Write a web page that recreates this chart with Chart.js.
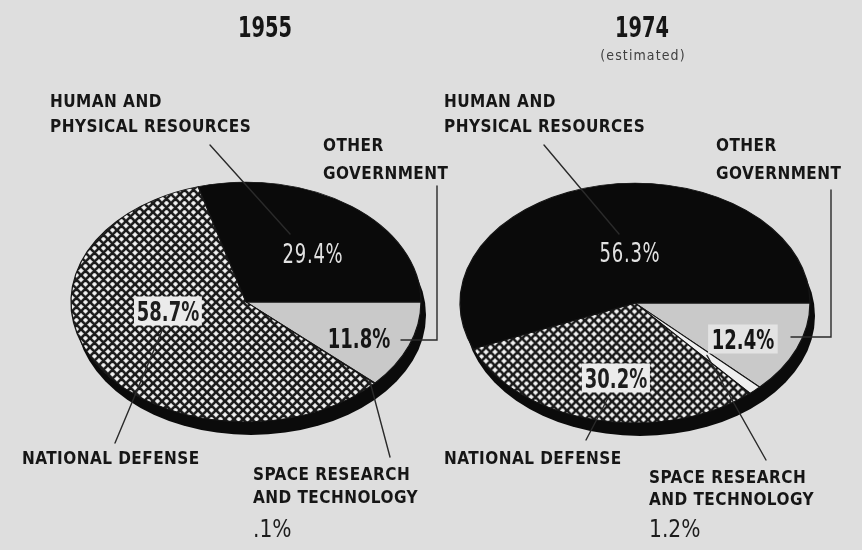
<!DOCTYPE html>
<html>
<head>
<meta charset="utf-8">
<script src="https://cdn.jsdelivr.net/npm/chart.js@4/dist/chart.umd.min.js"></script>
<style>
html,body{margin:0;padding:0;background:#dedede;}
#wrap{position:relative;width:862px;height:550px;overflow:hidden;background:#dedede;
  font-family:"DejaVu Sans Condensed","DejaVu Sans",sans-serif;color:#161616;}
canvas{position:absolute;left:0;top:0;}
.t{position:absolute;white-space:nowrap;}
.title{font-weight:bold;font-size:28px;line-height:28px;transform:translate(-50%,-50%) scaleX(0.77);}
.sub{font-size:14px;line-height:14px;letter-spacing:1.1px;color:#404040;transform:translate(-50%,-50%);}
.lab{font-weight:bold;font-size:17px;letter-spacing:0.45px;}
.pct{font-size:27px;line-height:27px;transform:translate(-50%,-50%) scaleX(0.74);}
.pb{font-weight:bold;color:#151515;}
.pbx{font-weight:bold;color:#151515;background:#e3e3e3;padding:1px 5px;}
.pbox{color:#1d1d1d;background:#ebebeb;padding:1px 4px;font-weight:bold;}
.pw{color:#e2e2e2;letter-spacing:1px;}
.ps{font-size:25px;line-height:25px;color:#1d1d1d;transform-origin:0 50%;transform:translate(0,-50%) scaleX(0.9);}
</style>
</head>
<body>
<div id="wrap">
  <canvas id="c1955" width="862" height="550"></canvas>
  <canvas id="c1974" width="862" height="550"></canvas>
</div>
<script>
// ---------------- data ----------------
const categories = ["OTHER GOVERNMENT", "SPACE RESEARCH AND TECHNOLOGY", "NATIONAL DEFENSE", "HUMAN AND PHYSICAL RESOURCES"];
const labelLines = [["OTHER", "GOVERNMENT"], ["SPACE RESEARCH", "AND TECHNOLOGY"], ["NATIONAL DEFENSE"], ["HUMAN AND", "PHYSICAL RESOURCES"]];
const years = ["1955", "1974"];
const subtitles = ["", "(estimated)"];
const values1955 = [11.8, 0.1, 58.7, 29.4];
const values1974 = [12.4, 1.2, 30.2, 56.3];

// ---------------- layout / style ----------------
const W = 862, H = 550;
const RADIUS = 175, SQUASH = 0.685, RIM_DX = 5, RIM_DY = 13;
const layouts = [
  { id: "c1955", values: values1955, cx: 246, cy: 302, titleX: 265,
    labels: [{x: 323, y: 138, lh: 28}, {x: 253, y: 468, lh: 23}, {x: 22, y: 452, lh: 25}, {x: 50, y: 95, lh: 25}],
    pcts: [{x: 359, y: 338, cls: "pb"}, {x: 253, y: 528, cls: "ps"}, {x: 168, y: 311, cls: "pbox"}, {x: 313, y: 253, cls: "pw"}],
    leaders: [[[437, 186], [437, 340], [401, 340]], [[390, 457], {slice: 1, t: 0.5, r: 0.96}], [[115, 443], [164, 326]], [[210, 145], [290, 234]]]
  },
  { id: "c1974", values: values1974, cx: 635, cy: 303, titleX: 642,
    labels: [{x: 716, y: 138, lh: 28}, {x: 649, y: 470, lh: 22}, {x: 444, y: 452, lh: 25}, {x: 444, y: 95, lh: 25}],
    pcts: [{x: 743, y: 339, cls: "pbx"}, {x: 649, y: 528, cls: "ps"}, {x: 616, y: 378, cls: "pbox"}, {x: 630, y: 252, cls: "pw"}],
    leaders: [[[831, 190], [831, 337], [791, 337]], [[766, 460], {slice: 1, t: 0.5, r: 0.6}], [[586, 440], [608, 398]], [[544, 145], [619, 234]]]
  }
];

function fmtPct(v) {
  let s = String(v);
  if (v < 1) s = s.replace(/^0/, "");
  return s + "%";
}

function hatchPattern(ctx) {
  const s = 9;
  const c = document.createElement("canvas");
  c.width = s; c.height = s;
  const g = c.getContext("2d");
  g.fillStyle = "#f2f2f2";
  g.fillRect(0, 0, s, s);
  g.strokeStyle = "#1b1b1b";
  g.lineWidth = 2.6;
  g.beginPath();
  for (let k = -1; k <= 1; k++) {
    g.moveTo(k * s - 2, -2); g.lineTo(k * s + s + 2, s + 2);
  }
  for (let k = 0; k <= 2; k++) {
    g.moveTo(k * s + 2, -2); g.lineTo(k * s - s - 2, s + 2);
  }
  g.stroke();
  const p = ctx.createPattern(c, "repeat");
  if (p.setTransform) p.setTransform(new DOMMatrix().scale(1, 1 / SQUASH));
  return p;
}

function makePlugins(layout) {
  const ellipse = {
    id: "ellipse",
    beforeDatasetsDraw(chart) {
      const a = chart.getDatasetMeta(0).data[0];
      const ctx = chart.ctx;
      ctx.save();
      ctx.fillStyle = "#0b0b0b";
      ctx.beginPath();
      ctx.ellipse(a.x + RIM_DX, a.y + RIM_DY, a.outerRadius, a.outerRadius * SQUASH, 0, 0, Math.PI * 2);
      ctx.fill();
      ctx.restore();
      ctx.save();
      ctx.translate(a.x, a.y);
      ctx.scale(1, SQUASH);
      ctx.translate(-a.x, -a.y);
    },
    afterDatasetsDraw(chart) {
      chart.ctx.restore();
    }
  };
  const leaders = {
    id: "leaders",
    afterDraw(chart) {
      const ctx = chart.ctx;
      const arcs = chart.getDatasetMeta(0).data;
      ctx.save();
      ctx.strokeStyle = "#2a2a2a";
      ctx.lineWidth = 1.4;
      ctx.lineCap = "round";
      layout.leaders.forEach(path => {
        ctx.beginPath();
        path.forEach((p, i) => {
          let pt = p;
          if (!Array.isArray(p)) {
            const a = arcs[p.slice];
            const ang = a.startAngle + (a.endAngle - a.startAngle) * p.t;
            pt = [a.x + Math.cos(ang) * a.outerRadius * p.r, a.y + Math.sin(ang) * a.outerRadius * p.r * SQUASH];
          }
          if (i === 0) ctx.moveTo(pt[0], pt[1]); else ctx.lineTo(pt[0], pt[1]);
        });
        ctx.stroke();
      });
      ctx.restore();
    }
  };
  return [ellipse, leaders];
}

const wrap = document.getElementById("wrap");
function addText(html, cls, x, y, extra) {
  const d = document.createElement("div");
  d.className = "t " + cls;
  d.innerHTML = html;
  d.style.left = x + "px";
  d.style.top = y + "px";
  if (extra) Object.assign(d.style, extra);
  wrap.appendChild(d);
  return d;
}

layouts.forEach((L, idx) => {
  const canvas = document.getElementById(L.id);
  const ctx = canvas.getContext("2d");
  const padL = Math.max(0, 2 * L.cx - W);
  const padR = Math.max(0, W - 2 * L.cx);
  const padT = Math.max(0, 2 * L.cy - H);
  const padB = Math.max(0, H - 2 * L.cy);
  new Chart(ctx, {
    type: "pie",
    data: {
      labels: categories,
      datasets: [{
        data: L.values,
        backgroundColor: ["#c9c9c9", "#efefef", hatchPattern(ctx), "#0a0a0a"],
        borderColor: "#151515",
        borderWidth: 1.3,
        radius: RADIUS
      }]
    },
    options: {
      responsive: false,
      animation: false,
      events: [],
      rotation: 90,
      layout: { padding: { left: padL, right: padR, top: padT, bottom: padB } },
      plugins: { legend: { display: false }, tooltip: { enabled: false }, title: { display: false } }
    },
    plugins: makePlugins(L)
  });

  // titles
  addText(years[idx], "title", L.titleX, 28);
  if (subtitles[idx]) addText(subtitles[idx], "sub", L.titleX + 1, 55);

  // category labels (y = cap top)
  const fs = 17;
  L.labels.forEach((p, i) => {
    const off = (p.lh - 1.164 * fs) / 2 + (0.928 - 0.729) * fs;
    addText(labelLines[i].join("<br>"), "lab", p.x, p.y - off, { lineHeight: p.lh + "px" });
  });

  // percentages
  L.pcts.forEach((p, i) => {
    addText(fmtPct(L.values[i]), "pct " + p.cls, p.x, p.y);
  });
});
</script>
</body>
</html>
